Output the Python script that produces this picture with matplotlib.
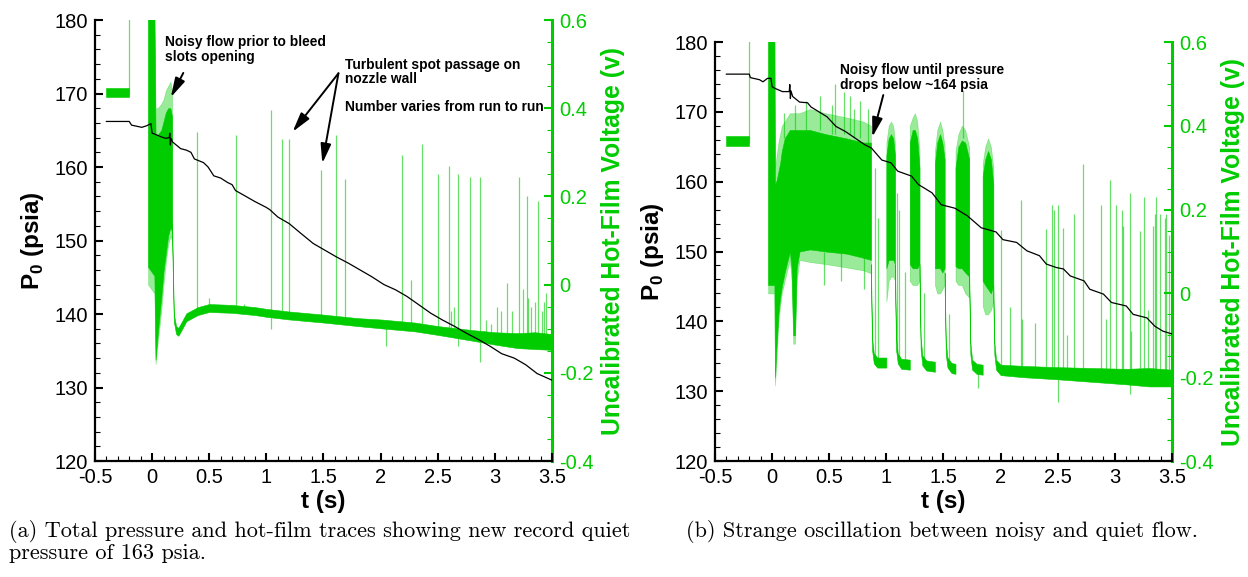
import numpy as np
import matplotlib
matplotlib.use("Agg")
import matplotlib.pyplot as plt
from matplotlib.ticker import MultipleLocator, FuncFormatter

plt.rcParams["font.family"] = ["Liberation Sans", "DejaVu Sans"]
plt.rcParams["axes.unicode_minus"] = False
plt.rcParams["mathtext.fontset"] = "custom"
plt.rcParams["mathtext.rm"] = "Liberation Sans"
plt.rcParams["mathtext.bf"] = "Liberation Sans:bold"

GREEN = "#00cc00"

# ---------------------------------------------------------------- panel (a)
# total pressure (psia)
P0A_T = [-0.4, -0.2, -0.18, -0.12, -0.09, -0.05, -0.01, 0.0, 0.02, 0.08, 0.12, 0.15,
         0.155, 0.16, 0.165, 0.18, 0.25, 0.3, 0.34, 0.37, 0.45, 0.49, 0.54, 0.6, 0.66,
         0.7, 0.73, 0.81, 0.9, 1.0, 1.03, 1.1, 1.2, 1.3, 1.41, 1.51, 1.61, 1.72, 1.82,
         1.92, 2.03, 2.13, 2.23, 2.34, 2.44, 2.54, 2.65, 2.75, 2.86, 2.96, 3.06, 3.17,
         3.27, 3.37, 3.5]
P0A = [166.2, 166.2, 165.7, 165.5, 165.4, 165.6, 165.9, 164.6, 164.5, 164.1, 163.9, 164.0,
       164.6, 163.0, 163.9, 163.4, 162.5, 162.3, 162.0, 161.1, 160.6, 160.0, 158.8, 158.5,
       157.9, 157.6, 156.8, 156.1, 155.3, 154.5, 154.2, 153.2, 152.3, 151.0, 149.6, 148.7,
       147.8, 146.9, 146.0, 145.1, 144.0, 143.3, 142.4, 141.2, 140.1, 139.2, 138.3, 137.4,
       136.5, 135.6, 134.6, 134.0, 133.1, 131.9, 131.0]

# hot-film voltage: pre-run level
PRE_A_T = [-0.4, -0.2]
PRE_A_LO = [0.425, 0.425]
PRE_A_HI = [0.445, 0.445]

# start-up noise (solid core and light fringe)
START_A_T = [-0.035, 0.02, 0.03, 0.05, 0.08, 0.10, 0.12, 0.14, 0.16, 0.175]
START_A_HI = [0.62, 0.62, 0.34, 0.34, 0.35, 0.37, 0.39, 0.40, 0.40, 0.38]
START_A_LO = [0.04, 0.02, -0.17, -0.11, -0.03, 0.03, 0.07, 0.11, 0.13, 0.12]
START_A_HI_F = [0.62, 0.62, 0.40, 0.40, 0.41, 0.42, 0.44, 0.45, 0.46, 0.44]
START_A_LO_F = [0.0, -0.02, -0.18, -0.13, -0.06, 0.0, 0.05, 0.09, 0.11, 0.10]

# quiet baseline
BASE_A_T = [0.175, 0.19, 0.21, 0.23, 0.26, 0.3, 0.4, 0.5, 0.7, 0.9, 1.0, 1.2, 1.5, 1.8,
            2.0, 2.3, 2.5, 2.8, 3.0, 3.2, 3.35, 3.5]
BASE_A_LO = [0.10, -0.084, -0.112, -0.116, -0.102, -0.083, -0.069, -0.062, -0.064, -0.069,
             -0.073, -0.079, -0.086, -0.094, -0.099, -0.106, -0.114, -0.127, -0.136,
             -0.144, -0.146, -0.148]
BASE_A_HI = [0.14, -0.066, -0.094, -0.098, -0.084, -0.065, -0.051, -0.044, -0.046, -0.051,
             -0.055, -0.061, -0.068, -0.076, -0.079, -0.086, -0.094, -0.103, -0.108,
             -0.11, -0.108, -0.112]

# turbulent spots
SPK_A_T = [-0.2, 0.39, 0.50, 0.73, 0.80, 1.045, 1.14, 1.20, 1.48, 1.61, 1.69, 2.05, 2.19,
           2.27, 2.36, 2.50, 2.60, 2.62, 2.64, 2.68, 2.78, 2.87, 2.92, 2.97, 3.02, 3.05,
           3.11, 3.15, 3.21, 3.25, 3.28, 3.29, 3.32, 3.35, 3.38, 3.41, 3.43, 3.45, 3.49]
SPK_A_LO = [0.43, -0.06, -0.05, -0.055, -0.057, -0.10, -0.067, -0.069, -0.076, -0.079,
            -0.081, -0.14, -0.093, -0.095, -0.097, -0.103, -0.107, -0.108, -0.109, -0.14,
            -0.113, -0.175, -0.116, -0.12, -0.122, -0.123, -0.124, -0.125, -0.126, -0.127,
            -0.127, -0.128, -0.128, -0.128, -0.128, -0.129, -0.129, -0.129, -0.13]
SPK_A_TOP = [0.62, 0.345, -0.03, 0.34, -0.045, 0.396, 0.33, 0.33, 0.26, 0.34, 0.24, -0.08,
             0.294, 0.01, 0.318, 0.25, 0.27, -0.06, -0.05, 0.25, 0.245, 0.245, -0.08, -0.09,
             -0.05, -0.06, 0.004, -0.06, 0.245, -0.01, 0.2, -0.03, -0.05, -0.04, 0.19, -0.06,
             -0.04, -0.02, 0.29]

# ---------------------------------------------------------------- panel (b)
P0B_T = [-0.4, -0.2, -0.19, -0.11, -0.08, -0.04, -0.01, 0.0, 0.02, 0.09, 0.15, 0.155, 0.16,
         0.165, 0.18, 0.24, 0.31, 0.34, 0.41, 0.48, 0.56, 0.64, 0.73, 0.81, 0.87, 0.96,
         1.04, 1.1, 1.22, 1.28, 1.40, 1.48, 1.60, 1.71, 1.83, 1.96, 2.02, 2.14, 2.23, 2.34,
         2.40, 2.49, 2.55, 2.61, 2.73, 2.78, 2.90, 2.97, 3.10, 3.16, 3.28, 3.35, 3.42, 3.5]
P0B = [175.4, 175.4, 174.9, 174.6, 174.3, 174.8, 174.8, 173.6, 173.4, 172.9, 172.9, 173.9,
       171.9, 173.0, 172.2, 171.4, 171.3, 170.7, 170.0, 169.3, 167.9, 167.2, 166.2, 165.3,
       164.8, 163.1, 162.7, 161.5, 160.8, 159.6, 158.4, 156.7, 156.2, 155.1, 153.4, 152.8,
       151.7, 151.3, 150.1, 149.4, 148.2, 147.7, 147.5, 146.5, 145.8, 144.6, 143.9, 142.7,
       142.2, 141.0, 140.5, 139.3, 138.6, 138.2]

PRE_B_T = [-0.4, -0.2]
PRE_B_LO = [0.351, 0.351]
PRE_B_HI = [0.375, 0.375]

# long noisy stretch after start-up
NOISE_B_T = [-0.035, 0.02, 0.025, 0.04, 0.055, 0.07, 0.085, 0.11, 0.155, 0.17, 0.185,
             0.2, 0.215, 0.24, 0.33, 0.47, 0.65, 0.80, 0.865]
NOISE_B_HI = [0.62, 0.62, 0.26, 0.27, 0.29, 0.31, 0.34, 0.37, 0.39, 0.39, 0.39, 0.39, 0.39,
              0.39, 0.39, 0.38, 0.37, 0.36, 0.36]
NOISE_B_LO = [0.02, 0.02, -0.2, -0.12, -0.05, -0.01, 0.016, 0.05, 0.1, 0.06, -0.1, -0.1,
              0.06, 0.1, 0.105, 0.1, 0.095, 0.085, 0.08]
NOISE_B_HI_F = [0.62, 0.62, 0.30, 0.33, 0.36, 0.38, 0.40, 0.41, 0.43, 0.43, 0.43, 0.43,
                0.43, 0.43, 0.44, 0.43, 0.42, 0.41, 0.40]
NOISE_B_LO_F = [0.0, 0.0, -0.22, -0.15, -0.07, -0.03, 0.0, 0.03, 0.08, 0.03, -0.12, -0.12,
                0.03, 0.08, 0.075, 0.07, 0.062, 0.055, 0.048]

# noisy bursts between quiet intervals (one list per burst)
BURST_B_T = [[1.0, 1.02, 1.04, 1.06, 1.075],
             [1.205, 1.23, 1.25, 1.27, 1.29],
             [1.425, 1.445, 1.47, 1.49, 1.51],
             [1.605, 1.63, 1.66, 1.69, 1.725],
             [1.843, 1.865, 1.89, 1.915, 1.936]]
BURST_B_HI = [[0.33, 0.37, 0.38, 0.37, 0.33],
              [0.36, 0.39, 0.39, 0.37, 0.30],
              [0.31, 0.36, 0.38, 0.36, 0.32],
              [0.30, 0.35, 0.365, 0.36, 0.32],
              [0.28, 0.32, 0.34, 0.32, 0.26]]
BURST_B_LO = [[0.06, 0.08, 0.08, 0.08, 0.07],
              [0.07, 0.06, 0.06, 0.06, 0.07],
              [0.06, 0.06, 0.06, 0.05, 0.06],
              [0.065, 0.06, 0.06, 0.05, 0.04],
              [0.03, 0.02, 0.01, 0.0, 0.02]]
BURST_B_HI_F = [[0.36, 0.40, 0.41, 0.40, 0.36],
                [0.40, 0.42, 0.43, 0.41, 0.34],
                [0.34, 0.39, 0.41, 0.39, 0.35],
                [0.34, 0.38, 0.40, 0.39, 0.35],
                [0.31, 0.35, 0.37, 0.35, 0.30]]
BURST_B_LO_F = [[-0.02, 0.03, 0.04, 0.04, 0.03],
                [0.03, 0.02, 0.02, 0.02, 0.03],
                [0.02, 0.0, 0.0, 0.01, 0.02],
                [0.03, 0.02, 0.02, 0.0, -0.01],
                [-0.03, -0.05, -0.05, -0.04, -0.02]]

# quiet intervals (one list per interval)
QUIET_B_T = [[0.865, 0.875, 0.89, 0.92, 1.0],
             [1.075, 1.085, 1.10, 1.13, 1.205],
             [1.29, 1.30, 1.315, 1.35, 1.425],
             [1.51, 1.52, 1.535, 1.57, 1.605],
             [1.725, 1.735, 1.75, 1.79, 1.843],
             [1.936, 1.945, 1.96, 2.0, 2.2, 2.5, 2.8, 3.1, 3.3, 3.5]]
QUIET_B_LO = [[0.03, -0.135, -0.167, -0.177, -0.177],
              [0.03, -0.135, -0.167, -0.18, -0.182],
              [0.03, -0.135, -0.172, -0.184, -0.187],
              [0.01, -0.145, -0.177, -0.19, -0.192],
              [0.01, -0.145, -0.182, -0.192, -0.194],
              [-0.02, -0.145, -0.182, -0.195, -0.2, -0.205, -0.211, -0.217, -0.222, -0.222]]
QUIET_B_HI = [[0.07, -0.105, -0.143, -0.153, -0.153],
              [0.07, -0.105, -0.143, -0.156, -0.158],
              [0.07, -0.105, -0.148, -0.16, -0.163],
              [0.05, -0.115, -0.153, -0.166, -0.168],
              [0.05, -0.115, -0.158, -0.168, -0.17],
              [0.02, -0.115, -0.158, -0.17, -0.173, -0.176, -0.178, -0.18, -0.178, -0.182]]

SPK_B_T = [-0.2, 0.10, 0.20, 0.30, 0.42, 0.45, 0.52, 0.55, 0.60, 0.63, 0.68, 0.72, 0.77,
           0.80, 0.84, 0.90, 0.93, 1.09, 1.11, 1.16, 1.33, 1.55, 1.67, 1.80,
           2.00, 2.08, 2.175, 2.187, 2.30, 2.40, 2.447, 2.467, 2.505, 2.55, 2.58, 2.645,
           2.72, 2.876, 2.92, 2.957, 3.01, 3.06, 3.07, 3.13, 3.14, 3.22, 3.255, 3.29, 3.33,
           3.35, 3.36, 3.395, 3.44, 3.45, 3.476]
SPK_B_LO = [0.36, 0.37, 0.39, 0.39, 0.39, 0.02, 0.38, 0.38, 0.03, 0.38, 0.38, 0.37, 0.37,
            0.01, 0.36, -0.16, -0.165, -0.14, -0.16, -0.168, -0.172, -0.178, 0.37, -0.226,
            -0.182, -0.183, -0.184, -0.184, -0.186, -0.187, -0.188, -0.188,
            -0.258, -0.19, -0.19, -0.191, -0.192, -0.194, -0.194, -0.195, -0.196, -0.197,
            -0.197, -0.24, -0.198, -0.199, -0.2, -0.2, -0.2, -0.2, -0.2, -0.201, -0.202,
            -0.202, -0.202]
SPK_B_TOP = [0.62, 0.43, 0.45, 0.46, 0.47, 0.10, 0.45, 0.50, 0.10, 0.48, 0.47, 0.44, 0.46,
             0.09, 0.44, 0.30, 0.18, 0.24, 0.20, 0.05, 0.0, -0.05, 0.485, -0.18,
             0.151, -0.032, 0.223, -0.06, -0.07, 0.153, 0.21, 0.20, 0.21, 0.157, -0.1, 0.19,
             0.31, 0.21, -0.06, 0.27, 0.21, 0.20, 0.16, 0.24, -0.09, 0.15, 0.23, -0.04, 0.16,
             0.19, 0.23, 0.19, 0.18, 0.19, 0.14]

CAPTION_A = ("(a) Total pressure and hot-film traces showing new record quiet\n"
             "pressure of 163 psia.")
CAPTION_B = "(b) Strange oscillation between noisy and quiet flow."


def band(ax, t, lo, hi, alpha=1.0):
    ax.fill_between(t, lo, hi, color=GREEN, alpha=alpha, lw=0.4, edgecolor=GREEN)


def spikes(ax, t, lo, top):
    ax.vlines(t, lo, top, color=GREEN, lw=0.9, alpha=0.6)


def style_axes(ax, ax2):
    ax.set_xlim(-0.5, 3.5)
    ax.set_ylim(120, 180)
    ax2.set_ylim(-0.4, 0.6)
    ax.set_zorder(ax2.get_zorder() + 1)
    ax.patch.set_visible(False)
    for s in ("top", "right"):
        ax.spines[s].set_visible(False)
    for s in ("top", "left", "bottom"):
        ax2.spines[s].set_visible(False)
    ax.spines["left"].set_linewidth(1.6)
    ax.spines["bottom"].set_linewidth(1.6)
    ax2.spines["right"].set_color(GREEN)
    ax2.spines["right"].set_linewidth(2.2)

    ax.xaxis.set_major_locator(MultipleLocator(0.5))
    ax.xaxis.set_minor_locator(MultipleLocator(0.1))
    ax.yaxis.set_major_locator(MultipleLocator(10))
    ax.yaxis.set_minor_locator(MultipleLocator(2))
    ax2.yaxis.set_major_locator(MultipleLocator(0.2))
    ax2.yaxis.set_minor_locator(MultipleLocator(0.05))
    fmt = FuncFormatter(lambda v, p: f"{round(v, 6) + 0:g}")
    for a in (ax.xaxis, ax.yaxis, ax2.yaxis):
        a.set_major_formatter(fmt)

    ax.tick_params(which="both", direction="in", top=False, right=False,
                   labelsize=14.5, pad=5)
    ax.tick_params(which="major", length=6, width=1.5)
    ax.tick_params(which="minor", length=3.5, width=0.8)
    ax2.tick_params(which="both", direction="in", colors=GREEN, labelsize=14.5, pad=5)
    ax2.tick_params(which="major", length=6, width=1.5)
    ax2.tick_params(which="minor", length=3.5, width=0.8)

    ax.set_xlabel("t (s)", fontsize=17.5, fontweight="bold", labelpad=2)
    ax.set_ylabel(r"P$_\mathbf{0}$ (psia)", fontsize=17.5, fontweight="bold", labelpad=6)
    ax2.set_ylabel("Uncalibrated Hot-Film Voltage (v)", color=GREEN, fontsize=17.8,
                   fontweight="bold", labelpad=5)


def arrow(ax, tail, head):
    ax.annotate("", xy=head, xytext=tail,
                arrowprops=dict(arrowstyle="-|>,head_length=1.3,head_width=0.35",
                                color="black", lw=1.4, shrinkA=0, shrinkB=0,
                                mutation_scale=9))


fig = plt.figure(figsize=(12.48, 5.77), dpi=100)

# ---- (a)
axa = fig.add_axes([0.0761, 0.2010, 0.3662, 0.7643])
axa2 = axa.twinx()
band(axa2, PRE_A_T, PRE_A_LO, PRE_A_HI)
band(axa2, START_A_T, START_A_LO_F, START_A_HI_F, alpha=0.4)
band(axa2, START_A_T, START_A_LO, START_A_HI)
spikes(axa2, SPK_A_T, SPK_A_LO, SPK_A_TOP)
band(axa2, BASE_A_T, BASE_A_LO, BASE_A_HI)
axa.plot(P0A_T, P0A, color="black", lw=0.9)
style_axes(axa, axa2)

txt = dict(fontsize=9.9, fontweight="bold", va="top", ha="left", linespacing=1.05)
axa.text(0.115, 177.9, "Noisy flow prior to bleed\nslots opening", **txt)
arrow(axa, (0.273, 172.8), (0.164, 169.5))
axa.text(1.69, 174.9, "Turbulent spot passage on\nnozzle wall", **txt)
axa.text(1.69, 169.1, "Number varies from run to run", **txt)
arrow(axa, (1.631, 172.75), (1.23, 164.8))
arrow(axa, (1.631, 172.75), (1.49, 160.5))

# ---- (b)
axb = fig.add_axes([0.5729, 0.2010, 0.3662, 0.7262])
axb2 = axb.twinx()
band(axb2, PRE_B_T, PRE_B_LO, PRE_B_HI)
band(axb2, NOISE_B_T, NOISE_B_LO_F, NOISE_B_HI_F, alpha=0.4)
band(axb2, NOISE_B_T, NOISE_B_LO, NOISE_B_HI)
for bt, blo, bhi, blof, bhif in zip(BURST_B_T, BURST_B_LO, BURST_B_HI,
                                    BURST_B_LO_F, BURST_B_HI_F):
    band(axb2, bt, blof, bhif, alpha=0.4)
    band(axb2, bt, blo, bhi)
spikes(axb2, SPK_B_T, SPK_B_LO, SPK_B_TOP)
for qt, qlo, qhi in zip(QUIET_B_T, QUIET_B_LO, QUIET_B_HI):
    band(axb2, qt, qlo, qhi)
axb.plot(P0B_T, P0B, color="black", lw=0.9)
style_axes(axb, axb2)

axb.text(0.594, 177.0, "Noisy flow until pressure\ndrops below ~164 psia", **txt)
arrow(axb, (0.973, 172.4), (0.877, 166.4))

# ---- captions
cap = dict(family="cmr10", fontsize=16, va="top", ha="left", linespacing=1.0)
fig.text(9 / 1248, 1 - 520 / 577, CAPTION_A, **cap)
fig.text(686 / 1248, 1 - 520 / 577, CAPTION_B, **cap)

fig.savefig("out.png", dpi=100)
